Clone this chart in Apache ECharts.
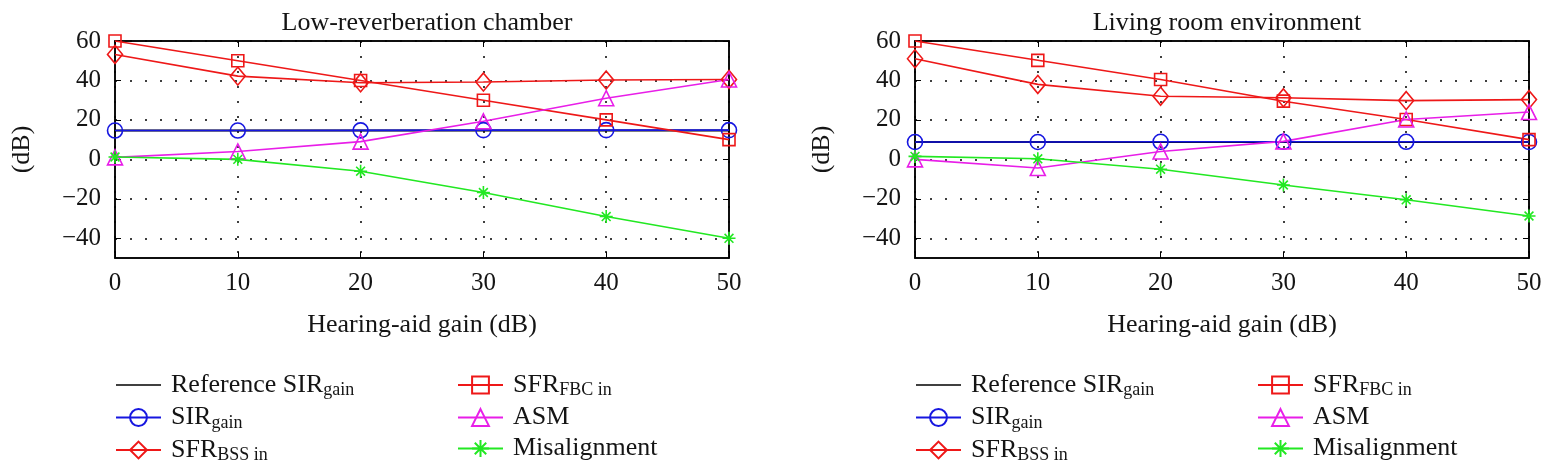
<!DOCTYPE html>
<html>
<head>
<meta charset="utf-8">
<script src="https://cdn.jsdelivr.net/npm/echarts@6/dist/echarts.min.js"></script>
<style>
html,body{margin:0;padding:0;background:#fff;}
#c{width:1560px;height:475px;}
</style>
</head>
<body>
<div id="c"></div>
<script>
// ---- data ----
const gains = [0, 10, 20, 30, 40, 50];
const yTicks = [-40, -20, 0, 20, 40, 60];
const xTicks = [0, 10, 20, 30, 40, 50];

const titles = ['Low-reverberation chamber', 'Living room environment'];

// Low-reverberation chamber
const lowRefSIR   = [14.6, 14.6, 14.6, 14.6, 14.6, 14.6];
const lowSIR      = [14.6, 14.6, 14.7, 14.8, 14.8, 14.8];
const lowBSS      = [53.2, 42.2, 38.8, 39.2, 40.2, 40.5];
const lowFBC      = [60, 50, 40, 30, 20, 10];
const lowASM      = [1, 4, 9, 19.3, 31, 40.5];
const lowMis      = [1.2, 0, -6, -16.8, -29, -40];

// Living room environment
const livRefSIR   = [8.8, 8.8, 8.8, 8.8, 8.8, 8.8];
const livSIR      = [8.8, 8.8, 8.9, 8.9, 8.9, 8.8];
const livBSS      = [51, 38, 32, 31.2, 29.8, 30.3];
const livFBC      = [60, 50.2, 40.5, 29.5, 20.2, 10];
const livASM      = [0, -4.4, 4, 9.1, 20.2, 24];
const livMis      = [1.5, 0.3, -5, -13, -20.5, -28.7];

const names = ['Reference SIR{sub|gain}', 'SIR{sub|gain}', 'SFR{sub|BSS in}',
               'SFR{sub|FBC in}', 'ASM', 'Misalignment'];

// ---- styles ----
const FONT = 'Liberation Serif';
const TXT = '#141414';
const RED = '#ee1818', BLUE = '#1616e0', MAG = '#e81ee8', GRN = '#22e822', BLK = '#000';
const ASTER = 'path://M5,0 L5,10 M0,5 L10,5 M1.6,1.6 L8.4,8.4 M8.4,1.6 L1.6,8.4';
const LINEICON = 'path://M0,0 L45,0 L45,1.6 L0,1.6 Z';
const DOT = [2, 13];

const styles = [
  {color: BLK, symbol: 'none', size: 0},
  {color: BLUE, symbol: 'circle', size: 15},
  {color: RED, symbol: 'diamond', size: [15, 18]},
  {color: RED, symbol: 'rect', size: 12},
  {color: MAG, symbol: 'triangle', size: 15},
  {color: GRN, symbol: ASTER, size: 13}
];

const panels = [
  {left: 115, data: [lowRefSIR, lowSIR, lowBSS, lowFBC, lowASM, lowMis]},
  {left: 915, data: [livRefSIR, livSIR, livBSS, livFBC, livASM, livMis]}
];
const GW = 614, GTOP = 41, GH = 217;

const grids = [], xAxes = [], yAxes = [], series = [], legends = [], titleArr = [];
const fmtY = v => (v < 0 ? '\u2212' + Math.abs(v) : String(v));

panels.forEach((p, pi) => {
  grids.push({left: p.left, top: GTOP, width: GW, height: GH, show: true,
              borderColor: '#000', borderWidth: 1.5, backgroundColor: 'transparent'});
  // bottom x
  xAxes.push({type: 'value', gridIndex: pi, min: 0, max: 50, interval: 10, position: 'bottom',
    name: 'Hearing-aid gain (dB)', nameLocation: 'middle', nameGap: 54,
    nameTextStyle: {fontFamily: FONT, fontSize: 26, color: TXT},
    axisLine: {show: true, onZero: false, lineStyle: {color: '#000', width: 1.5}},
    axisTick: {show: true, inside: true, length: 6, lineStyle: {color: '#000'}},
    axisLabel: {fontFamily: FONT, fontSize: 25, color: TXT, margin: 13},
    splitLine: {show: true, lineStyle: {color: '#000', type: DOT, width: 1.5}}
  });
  // top x (ticks only)
  xAxes.push({type: 'value', gridIndex: pi, min: 0, max: 50, interval: 10, position: 'top',
    axisLine: {show: true, onZero: false, lineStyle: {color: '#000', width: 1.5}},
    axisTick: {show: true, inside: true, length: 6, lineStyle: {color: '#000'}},
    axisLabel: {show: false}, splitLine: {show: false}
  });
  yAxes.push({type: 'value', gridIndex: pi, min: -50, max: 60, position: 'left',
    name: '(dB)', nameLocation: 'middle', nameRotate: 90, nameGap: 80,
    nameTextStyle: {fontFamily: FONT, fontSize: 26, color: TXT},
    axisLine: {show: true, onZero: false, lineStyle: {color: '#000', width: 1.5}},
    axisTick: {show: true, inside: true, length: 6, lineStyle: {color: '#000'}, customValues: yTicks},
    axisLabel: {fontFamily: FONT, fontSize: 25, color: TXT, margin: 14, customValues: yTicks, formatter: fmtY},
    splitLine: {show: true, lineStyle: {color: '#000', type: DOT, width: 1.5}}
  });
  yAxes.push({type: 'value', gridIndex: pi, min: -50, max: 60, position: 'right',
    axisLine: {show: true, onZero: false, lineStyle: {color: '#000', width: 1.5}},
    axisTick: {show: true, inside: true, length: 6, lineStyle: {color: '#000'}, customValues: yTicks},
    axisLabel: {show: false, customValues: yTicks}, splitLine: {show: false}
  });
  titleArr.push({text: titles[pi], left: p.left + GW / 2, top: 5, textAlign: 'center',
    textStyle: {fontFamily: FONT, fontSize: 26, fontWeight: 'normal', color: TXT}});

  p.data.forEach((vals, si) => {
    const st = styles[si];
    series.push({
      type: 'line', name: names[si], xAxisIndex: pi * 2, yAxisIndex: pi * 2,
      data: gains.map((g, i) => [g, vals[i]]),
      symbol: st.symbol, symbolSize: st.size, showSymbol: st.symbol !== 'none',
      z: si === 0 ? 2 : 3,
      lineStyle: {color: st.color, width: si === 0 ? 2 : 1.6},
      itemStyle: si === 0 ? {color: BLK} : {color: 'rgba(0,0,0,0)', borderColor: st.color, borderWidth: 1.6},
      emphasis: {disabled: true}, animation: false, clip: false
    });
  });

  const legText = {fontFamily: FONT, fontSize: 26, color: TXT, padding: [0, 0, 0, 5],
    rich: {sub: {fontFamily: FONT, fontSize: 18, color: TXT, padding: [11, 0, 0, 0]}}};
  const legData = names.map((n, i) => i === 0 ? {name: n, icon: LINEICON} : {name: n});
  legends.push({orient: 'vertical', left: p.left - 5, top: 367, itemGap: 5, itemWidth: 45, itemHeight: 21,
    data: legData.slice(0, 3), textStyle: legText, selectedMode: false});
  legends.push({orient: 'vertical', left: p.left + 337, top: 367, itemGap: 5, itemWidth: 45, itemHeight: 21,
    data: legData.slice(3), textStyle: legText, selectedMode: false});
});

const chart = echarts.init(document.getElementById('c'), null, {renderer: 'canvas'});
chart.setOption({
  animation: false,
  backgroundColor: '#fff',
  title: titleArr,
  grid: grids,
  xAxis: xAxes,
  yAxis: yAxes,
  legend: legends,
  series: series
});
</script>
</body>
</html>
